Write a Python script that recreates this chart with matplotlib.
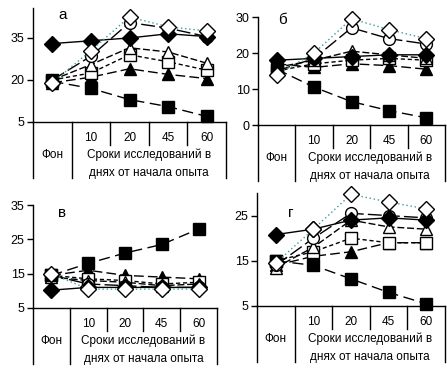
import matplotlib
matplotlib.use("Agg")
import matplotlib.pyplot as plt

plt.rcParams["font.family"] = ["Liberation Sans", "DejaVu Sans"]

cats = ["Фон", "10", "20", "45", "60"]

# panel а
a_fd = [33, 34, 35, 36.5, 35.5]
a_fs = [19.5, 17, 13, 10.5, 7]
a_os = [20, 22.5, 29, 26.5, 23.5]
a_ot = [20, 25.5, 31.5, 30, 26]
a_ft = [19, 21, 24, 22, 20.5]
a_oc = [20, 28.5, 40.5, 38.5, 35.5]
a_od = [19, 30.5, 42.5, 39, 37.5]

# panel б
b_fd = [18, 18.5, 19, 19.5, 19.5]
b_fs = [15.5, 10.5, 6.5, 4, 2]
b_os = [15, 17, 18, 18.5, 18]
b_ot = [16, 18, 20.5, 19.5, 18.5]
b_ft = [17, 16, 17, 16.5, 15.5]
b_oc = [15, 18.5, 27, 24, 22.5]
b_od = [14, 20, 29.5, 26.5, 24]

# panel в
c_fd = [10.2, 11, 11, 11, 11]
c_fs = [14.5, 18, 21, 23.5, 28]
c_os = [14.5, 13.5, 13, 12, 12.5]
c_ot = [14, 13, 12.5, 11.5, 12]
c_ft = [14.5, 16, 14.5, 14, 13.5]
c_oc = [14.5, 12, 11.5, 11, 11]
c_od = [15, 10.5, 10.5, 10.5, 10.5]

# panel г
d_fd = [20.8, 22, 24, 24.5, 24]
d_fs = [15, 14, 11, 8, 5.5]
d_os = [15, 17, 20, 19, 19]
d_ot = [13.5, 18, 24, 22.5, 22]
d_ft = [14, 16, 17, 19, 19]
d_oc = [14, 20, 25.5, 25, 24.5]
d_od = [14.5, 22, 29.7, 28, 26.5]

W, H = 447, 371

styles = [
    # (key, marker, facecolor, line color, dashes)
    ("ft", "^", "black", "black", (7, 3)),
    ("os", "s", "white", "black", (3, 2)),
    ("ot", "^", "white", "black", (5, 2)),
    ("oc", "o", "white", "black", (10, 3)),
    ("fs", "s", "black", "black", (8, 4)),
    ("fd", "D", "black", "black", None),
    ("od", "D", "white", "#3f9a9a", (1, 2)),
]


def draw_panel(box, data, ylim, ticks, letter, letter_xy):
    left, top, right, bottom = box
    ax = fig.add_axes([left / W, 1 - bottom / H, (right - left) / W, (bottom - top) / H])
    x = [i + 0.5 for i in range(len(cats))]
    for z, (key, mk, fc, lc, dash) in enumerate(styles):
        ln, = ax.plot(x, data[key], color=lc, lw=1, marker=mk,
                      markersize={"D": 8, "^": 8.5, "s": 8, "o": 8.5}[mk],
                      markerfacecolor=fc, markeredgecolor="black", markeredgewidth=1,
                      clip_on=False, zorder=3 + z)
        if dash:
            ln.set_dashes(dash)
    ax.set_xlim(0, 5)
    ax.set_ylim(*ylim)
    ax.set_yticks(ticks)
    ax.set_xticks([])
    ax.tick_params(axis="y", direction="out", length=4, width=1, labelsize=9, pad=2)
    for s in ["top", "right"]:
        ax.spines[s].set_visible(False)
    ax.spines["left"].set_linewidth(1)
    ax.spines["bottom"].set_linewidth(1)

    hpx = bottom - top
    fy = lambda px: -px / hpx
    tr = ax.get_xaxis_transform()
    # category table under the axis
    for xv in [0, 1, 5]:
        ax.plot([xv, xv], [0, fy(56)], color="black", lw=1, transform=tr, clip_on=False)
    for xv in [2, 3, 4]:
        ax.plot([xv, xv], [0, fy(23)], color="black", lw=1, transform=tr, clip_on=False)
    for i, c in enumerate(cats[1:]):
        ax.text(i + 1.5, fy(16), c, transform=tr, ha="center", va="center", fontsize=8.5)
    ax.text(0.5, fy(33), cats[0], transform=tr, ha="center", va="center", fontsize=8.5)
    ax.text(3, fy(33), "Сроки исследований в", transform=tr, ha="center", va="center", fontsize=8.5)
    ax.text(3, fy(51), "днях от начала опыта", transform=tr, ha="center", va="center", fontsize=8.5)

    ax.text((letter_xy[0] - left) / (right - left), (bottom - letter_xy[1]) / hpx, letter,
            transform=ax.transAxes, ha="center", va="center", fontsize=11)
    return ax


fig = plt.figure(figsize=(W / 100, H / 100), dpi=100)

pa = dict(fd=a_fd, fs=a_fs, os=a_os, ot=a_ot, ft=a_ft, oc=a_oc, od=a_od)
pb = dict(fd=b_fd, fs=b_fs, os=b_os, ot=b_ot, ft=b_ft, oc=b_oc, od=b_od)
pc = dict(fd=c_fd, fs=c_fs, os=c_os, ot=c_ot, ft=c_ft, oc=c_oc, od=c_od)
pd_ = dict(fd=d_fd, fs=d_fs, os=d_os, ot=d_ot, ft=d_ft, oc=d_oc, od=d_od)

draw_panel((33, 8, 226, 122), pa, (5, 45.7), [5, 20, 35], "а", (63, 15))
draw_panel((258, 17, 445, 125), pb, (0, 30), [0, 10, 20, 30], "б", (282, 20))
draw_panel((33, 205, 217, 308), pc, (5, 35), [5, 15, 25, 35], "в", (62, 213))
draw_panel((257, 193, 445, 306), pd_, (5, 30), [5, 15, 25], "г", (291, 213))

fig.savefig("out.png", dpi=100)
